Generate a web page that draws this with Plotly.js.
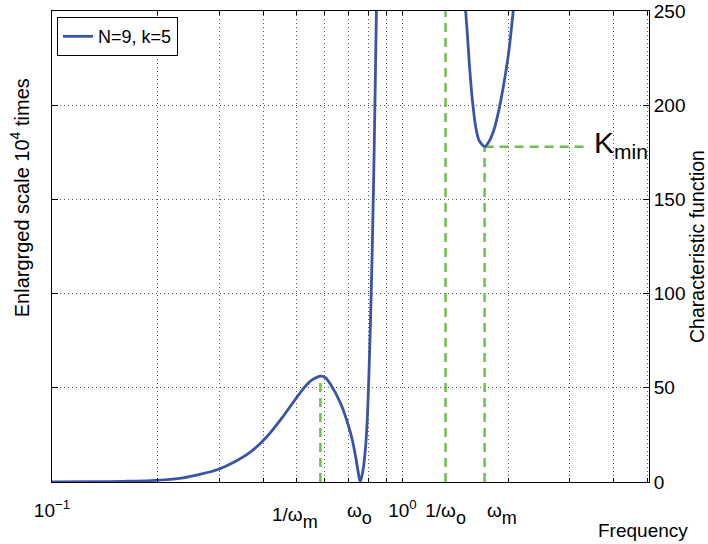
<!DOCTYPE html>
<html>
<head>
<meta charset="utf-8">
<script src="https://cdn.plot.ly/plotly-3.0.1.min.js"></script>
<style>html,body{margin:0;padding:0;background:#fff;}</style>
</head>
<body>
<div id="chart" style="width:708px;height:544px;"></div>
<script>
// ---- data ----
const freqLow = [0.1, 0.13, 0.16, 0.1905, 0.2367, 0.296, 0.329, 0.3679, 0.4114, 0.4571, 0.5111, 0.5458, 0.583, 0.6026, 0.6225, 0.665, 0.7009, 0.7197, 0.734, 0.7464, 0.757, 0.771, 0.7841, 0.7943, 0.8023, 0.8103, 0.8184, 0.8263, 0.8343, 0.8425];
const charLow = [0.02, 0.15, 0.35, 0.7, 2.2, 6.5, 10.3, 15.8, 24.3, 35, 47.5, 53.5, 56.2, 55.4, 52, 42, 30, 22, 14, 6, 0, 6, 18, 35, 58, 85, 118, 155, 200, 250];
const freqHigh = [1.514, 1.531, 1.554, 1.582, 1.617, 1.652, 1.715, 1.764, 1.823, 1.884, 1.947, 2.012, 2.07];
const charHigh = [250, 238, 220, 203, 188.6, 181.5, 178, 180.6, 186.8, 197.5, 211.6, 229, 250];

const omegaM = 1.715;      // ω_m
const omegaO = 0.7536;     // ω_o
const peakValue = 56.2;    // value at 1/ω_m
const kMin = 178;          // K_min
const kMinLineEnd = 3.42;  // end of the K_min guide line
const yMax = 250;
const xMin = 0.1, xMax = 5.05;

const SUB = s => '<sub><sub><span style="font-size:18px">' + s + '</span></sub></sub>';
const yTicks = [0, 50, 100, 150, 200, 250];
const xMinorGrid = [0.2, 0.3, 0.4, 0.5, 0.6, 0.7, 0.8, 0.9, 1, 2, 3, 4, 5];
const xTickVals = [0.1, omegaO, 1, 1 / omegaO];
const xTickText = ['10<sup>−1</sup>', 'ω' + SUB('o'), '10<sup>0</sup>', '1/ω' + SUB('o')];

// ---- build traces ----
const curveX = freqLow.concat([1.0], freqHigh);
const curveY = charLow.concat([null], charHigh);

const FONT = 'Liberation Sans, Arial, Helvetica, sans-serif';
const GREEN = '#6cc04a';
const BLUE = '#3a55a6';
const GRID = '#555';
const GRIDDASH = '1px,3px';
const dashStyle = {color: GREEN, width: 2.5, dash: '9px,6px'};

const traces = [
  {x: [1 / omegaM, 1 / omegaM], y: [0, peakValue], mode: 'lines', line: dashStyle, showlegend: false, hoverinfo: 'skip'},
  {x: [1 / omegaO, 1 / omegaO], y: [0, yMax], mode: 'lines', line: dashStyle, showlegend: false, hoverinfo: 'skip'},
  {x: [omegaM, omegaM], y: [0, kMin], mode: 'lines', line: dashStyle, showlegend: false, hoverinfo: 'skip'},
  {x: [omegaM, kMinLineEnd], y: [kMin, kMin], mode: 'lines', line: dashStyle, showlegend: false, hoverinfo: 'skip'},
  {x: curveX, y: curveY, mode: 'lines', name: 'N=9, k=5', line: {color: BLUE, width: 2.8, shape: 'spline', smoothing: 0.7}, connectgaps: false}
];

const layout = {
  width: 708, height: 544,
  margin: {l: 52, r: 59, t: 11, b: 62},
  paper_bgcolor: '#fff', plot_bgcolor: '#fff',
  font: {family: FONT, size: 19, color: '#000'},
  showlegend: true,
  legend: {x: 0.0084, y: 0.987, xanchor: 'left', yanchor: 'top', bgcolor: '#fff', bordercolor: '#000', borderwidth: 1, font: {family: FONT, size: 18, color: '#000'}, tracegroupgap: 0},
  xaxis: {
    type: 'log', range: [Math.log10(xMin), Math.log10(xMax)],
    tickmode: 'array', tickvals: xTickVals, ticktext: xTickText,
    showgrid: false, zeroline: false, ticks: '', ticklabelstandoff: 11,
    showline: true, linecolor: '#000', linewidth: 1, mirror: 'ticks',
    tickfont: {family: FONT, size: 19, color: '#000'},
    minor: {tickmode: 'array', tickvals: xMinorGrid, showgrid: true, gridcolor: GRID, griddash: GRIDDASH, gridwidth: 1, ticks: 'inside', ticklen: 4, tickcolor: '#000'}
  },
  yaxis: {
    range: [0, yMax], side: 'right',
    tickmode: 'array', tickvals: yTicks,
    showgrid: true, gridcolor: GRID, griddash: GRIDDASH, gridwidth: 1,
    zeroline: false, ticks: 'inside', ticklen: 6, tickcolor: '#000',
    showline: true, linecolor: '#000', linewidth: 1, mirror: 'ticks',
    tickfont: {family: FONT, size: 19, color: '#000'}
  },
  annotations: [
    {x: Math.log10(1 / omegaM), xref: 'x', y: 0, yref: 'paper', text: '1/ω' + SUB('m'), showarrow: false, xanchor: 'right', yanchor: 'top', yshift: -20, font: {family: FONT, size: 19, color: '#000'}},
    {x: Math.log10(omegaM), xref: 'x', y: 0, yref: 'paper', text: 'ω' + SUB('m'), showarrow: false, xanchor: 'left', yanchor: 'top', yshift: -16, font: {family: FONT, size: 19, color: '#000'}},
    {x: 1.0687, xref: 'paper', y: -0.104, yref: 'paper', text: 'Frequency', showarrow: false, xanchor: 'right', yanchor: 'middle', font: {family: FONT, size: 19, color: '#000'}},
    {x: -0.054, xref: 'paper', y: 0.604, yref: 'paper', text: 'Enlargrged scale 10<sup>4</sup> times', textangle: -90, showarrow: false, xanchor: 'center', yanchor: 'middle', font: {family: FONT, size: 20, color: '#000'}},
    {x: 1.0795, xref: 'paper', y: 0.5, yref: 'paper', text: 'Characteristic function', textangle: -90, showarrow: false, xanchor: 'center', yanchor: 'middle', font: {family: FONT, size: 19.5, color: '#000'}},
    {x: Math.log10(kMinLineEnd), xref: 'x', y: kMin, yref: 'y', text: 'K<sub>min</sub>', showarrow: false, xanchor: 'left', yanchor: 'middle', xshift: 2, yshift: 2, font: {family: FONT, size: 30, color: '#000'}}
  ]
};

Plotly.newPlot('chart', traces, layout, {displayModeBar: false, staticPlot: true});
</script>
</body>
</html>
